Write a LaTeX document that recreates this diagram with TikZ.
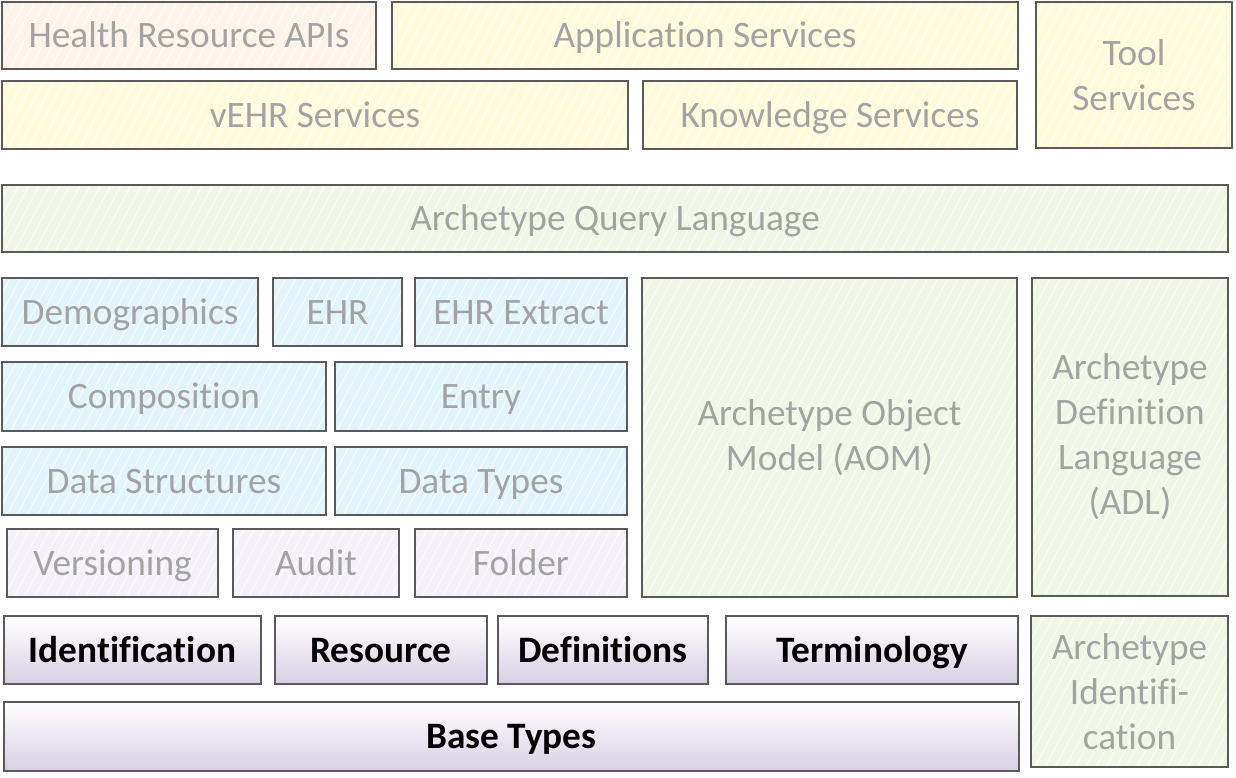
\documentclass[tikz,border=0pt]{standalone}
\usepackage{fontspec}
\setmainfont{Carlito}[Ligatures=NoCommon]
\usetikzlibrary{patterns.meta}

\definecolor{peachfill}{HTML}{FDF3E8}
\definecolor{yellowfill}{HTML}{FEFBDC}
\definecolor{greenfill}{HTML}{F1F7E6}
\definecolor{cyanfill}{HTML}{E2F5FB}
\definecolor{lilacfill}{HTML}{F4F1F8}
\definecolor{lilacdark}{HTML}{D8CFE4}
\definecolor{fadetext}{HTML}{A3A3A3}
\definecolor{edge}{HTML}{5A5A5A}

\tikzset{
  layer/.style={draw=edge, line width=1.6pt, inner sep=0pt, outer sep=0pt,
    align=center, font=\fontsize{37.3}{45}\selectfont},
  slab/.style={layer, text height=24pt, text depth=0pt},
  wh/.style 2 args={minimum width=#1pt, minimum height=#2pt},
  hatched/.style={preaction={fill=#1}, text=fadetext,
    pattern={Lines[angle=62,distance=9pt,line width=0.7pt]},
    pattern color=white},
  corebox/.style={top color=white, bottom color=lilacdark, text=black,
    font=\fontsize{37.3}{45}\selectfont\bfseries}
}

\begin{document}
\begin{tikzpicture}[x=1pt, y=-1pt]
  \useasboundingbox (0,0) rectangle (1236,777);
  % service layers
  \node[slab, hatched=peachfill, wh={374}{67}] (hrapi) at (189,35.5) {Health Resource APIs};
  \node[slab, hatched=yellowfill, wh={626}{67}] (appsvc) at (705,35.5) {Application Services};
  \node[layer, hatched=yellowfill, wh={196}{146}] (toolsvc) at (1134,75) {Tool\\Services};
  \node[slab, hatched=yellowfill, wh={626}{68}] (vehr) at (315,115) {vEHR Services};
  \node[slab, hatched=yellowfill, wh={374}{68}] (knowsvc) at (830,115) {Knowledge Services};
  % query language
  \node[slab, hatched=greenfill, wh={1226}{67}] (aql) at (615,218.5) {Archetype Query Language};
  % reference model
  \node[slab, hatched=cyanfill, wh={256}{68}] (demog) at (130,312) {Demographics};
  \node[slab, hatched=cyanfill, wh={129}{68}] (ehr) at (337.5,312) {EHR};
  \node[slab, hatched=cyanfill, wh={212}{68}] (ehrext) at (521,312) {EHR Extract};
  \node[slab, hatched=cyanfill, wh={324}{69}] (compo) at (164,396.5) {Composition};
  \node[slab, hatched=cyanfill, wh={292}{69}] (entry) at (481,396.5) {Entry};
  \node[slab, hatched=cyanfill, wh={324}{68}] (dstruct) at (164,481) {Data Structures};
  \node[slab, hatched=cyanfill, wh={292}{68}] (dtypes) at (481,481) {Data Types};
  \node[slab, hatched=lilacfill, wh={211}{68}] (version) at (112.5,563) {Versioning};
  \node[slab, hatched=lilacfill, wh={166}{68}] (audit) at (316,563) {Audit};
  \node[slab, hatched=lilacfill, wh={212}{68}] (folder) at (521,563) {Folder};
  % archetype model
  \node[layer, hatched=greenfill, wh={375}{319}] (aom) at (829.5,437.5) {Archetype Object\\Model (AOM)};
  \node[layer, hatched=greenfill, wh={196}{318}] (adl) at (1130,437) {Archetype\\Definition\\Language\\(ADL)};
  \node[layer, hatched=greenfill, wh={197}{151}] (archid) at (1129.5,691.5) {Archetype\\Identifi-\\cation};
  % foundation
  \node[slab, corebox, wh={257}{68}] (ident) at (132.5,650) {Identification};
  \node[slab, corebox, wh={212}{68}] (resource) at (381,650) {Resource};
  \node[slab, corebox, wh={210}{68}] (defs) at (603,650) {Definitions};
  \node[slab, corebox, wh={292}{68}] (termin) at (872,650) {Terminology};
  \node[slab, corebox, wh={1015}{69}] (basetypes) at (511.5,736.5) {Base Types};
\end{tikzpicture}
\end{document}
